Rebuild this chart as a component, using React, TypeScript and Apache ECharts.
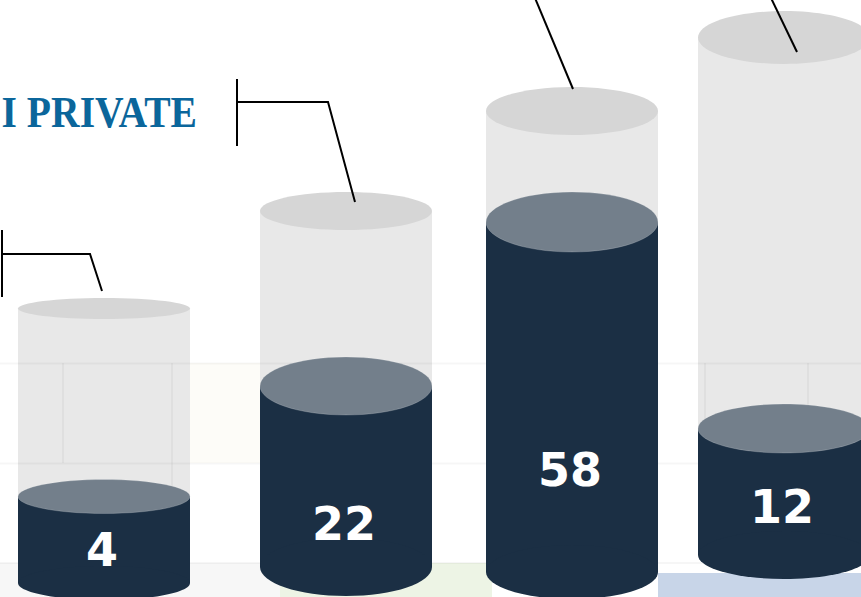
import React, { useEffect, useRef } from "react";
import * as echarts from "echarts";

// ---- data ----
const categories = ["Colonna 1", "Colonna 2", "Colonna 3", "Colonna 4"];
const values = [4, 22, 58, 12];
// x position of each column on the horizontal value axis
const columnCenters = [104, 346, 572, 784];
// levels on the vertical value axis (0 = bottom of the picture)
const baseLevels = [14, 30, 25, 42];
const fillLevels = [100.5, 211, 375, 168.5];
const capacityLevels = [288.5, 386, 486, 559.5];
const labelLevels = [47, 73, 127, 90];
const titleText = "I PRIVATE";

// ---- styling ----
const COLUMN_WIDTH = 172;
const ryCapacity = [10.5, 19, 24, 26.5];
const ryFill = [17, 29, 30, 24.5];
const ryBase = [17, 29, 27, 24];

const W = 861;
const H = 597;

export default function App() {
  const ref = useRef<HTMLDivElement>(null);

  useEffect(() => {
    if (!ref.current) return;
    const chart = echarts.init(ref.current, undefined, { renderer: "svg" });

    const data = categories.map((c, i) => ({
      name: c,
      value: [columnCenters[i], baseLevels[i], fillLevels[i], capacityLevels[i], labelLevels[i], values[i], i],
    }));

    const geom = (api: any) => {
      const x = api.value(0);
      const cx = api.coord([x, 0])[0];
      const baseY = api.coord([x, api.value(1)])[1];
      const fillY = api.coord([x, api.value(2)])[1];
      const capY = api.coord([x, api.value(3)])[1];
      const labelY = api.coord([x, api.value(4)])[1];
      const w = api.size([COLUMN_WIDTH, 0])[0];
      return { cx, baseY, fillY, capY, labelY, w, rx: w / 2, i: api.value(6), v: api.value(5) };
    };

    const bgRender = (_p: any, api: any) => {
      const g = geom(api);
      return {
        type: "group",
        children: [
          {
            type: "rect",
            shape: { x: g.cx - g.rx, y: g.capY, width: g.w, height: g.fillY - g.capY + 4 },
            style: { fill: "#e8e8e8" },
          },
          {
            type: "ellipse",
            shape: { cx: g.cx, cy: g.capY, rx: g.rx, ry: ryCapacity[g.i] },
            style: { fill: "#d6d6d6" },
          },
        ],
      };
    };

    const fgRender = (_p: any, api: any) => {
      const g = geom(api);
      return {
        type: "group",
        children: [
          {
            type: "rect",
            shape: { x: g.cx - g.rx, y: g.fillY, width: g.w, height: g.baseY - g.fillY },
            style: { fill: "#1b2f44" },
          },
          {
            type: "ellipse",
            shape: { cx: g.cx, cy: g.baseY, rx: g.rx, ry: ryBase[g.i] },
            style: { fill: "#1b2f44" },
          },
          {
            type: "ellipse",
            shape: { cx: g.cx, cy: g.fillY, rx: g.rx, ry: ryFill[g.i] },
            style: { fill: "#737f8b", stroke: "rgba(255,255,255,0.18)", lineWidth: 1 },
          },
          {
            type: "text",
            x: g.cx - 2,
            y: g.labelY,
            style: {
              text: String(g.v),
              fill: "#ffffff",
              font: 'bold 46px "DejaVu Sans", Verdana, sans-serif',
              align: "center",
              verticalAlign: "middle",
              textAlign: "center",
              textVerticalAlign: "middle",
            },
          },
        ],
      };
    };

    const faint = "rgba(0,0,0,0.035)";
    const decor: any[] = [
      { type: "rect", z: 0, shape: { x: 0, y: 563, width: 280, height: 40 }, style: { fill: "#f7f7f7" } },
      { type: "rect", z: 0, shape: { x: 280, y: 563, width: 212, height: 40 }, style: { fill: "#edf4e5" } },
      { type: "rect", z: 0, shape: { x: 658, y: 573, width: 210, height: 30 }, style: { fill: "#c8d5e8" } },
      { type: "rect", z: 0, shape: { x: 172, y: 363, width: 90, height: 100 }, style: { fill: "#fdfcf8" } },
      { type: "line", z: 2, shape: { x1: 0, y1: 363.5, x2: W, y2: 363.5 }, style: { stroke: faint, lineWidth: 2 } },
      { type: "line", z: 2, shape: { x1: 0, y1: 463.5, x2: W, y2: 463.5 }, style: { stroke: faint, lineWidth: 2 } },
      { type: "line", z: 2, shape: { x1: 0, y1: 563, x2: W, y2: 563 }, style: { stroke: faint, lineWidth: 2 } },
      { type: "line", z: 2, shape: { x1: 63, y1: 363, x2: 63, y2: 463 }, style: { stroke: faint, lineWidth: 2 } },
      { type: "line", z: 2, shape: { x1: 172, y1: 363, x2: 172, y2: 563 }, style: { stroke: faint, lineWidth: 2 } },
      { type: "line", z: 2, shape: { x1: 705, y1: 363, x2: 705, y2: 463 }, style: { stroke: faint, lineWidth: 2 } },
      { type: "line", z: 2, shape: { x1: 808, y1: 363, x2: 808, y2: 463 }, style: { stroke: faint, lineWidth: 2 } },
    ];

    const leaderStyle = { stroke: "#000000", lineWidth: 2, fill: null };
    const leaders: any[] = [
      { type: "line", z: 5, shape: { x1: 2, y1: 230, x2: 2, y2: 297 }, style: leaderStyle },
      { type: "polyline", z: 5, shape: { points: [[2, 254], [90, 254], [102, 291]] }, style: leaderStyle },
      { type: "line", z: 5, shape: { x1: 237, y1: 79, x2: 237, y2: 146 }, style: leaderStyle },
      { type: "polyline", z: 5, shape: { points: [[237, 102], [328, 102], [355, 202]] }, style: leaderStyle },
      { type: "line", z: 5, shape: { x1: 535, y1: -2, x2: 573, y2: 89 }, style: leaderStyle },
      { type: "line", z: 5, shape: { x1: 771, y1: -2, x2: 797, y2: 52 }, style: leaderStyle },
      {
        type: "text",
        z: 5,
        x: 197,
        y: 112,
        scaleX: 0.88,
        style: {
          text: titleText,
          fill: "#0b669b",
          font: 'bold 45px "Liberation Serif", "DejaVu Serif", serif',
          align: "right",
          verticalAlign: "middle",
          textAlign: "right",
          textVerticalAlign: "middle",
        },
      },
    ];

    chart.setOption({
      animation: false,
      backgroundColor: "#ffffff",
      grid: { left: 0, right: 0, top: 0, bottom: 0 },
      xAxis: { type: "value", min: 0, max: W, show: false },
      yAxis: { type: "value", min: 0, max: H, show: false },
      graphic: { elements: [...decor, ...leaders] },
      series: [
        { type: "custom", name: "capacity", z: 1, renderItem: bgRender, data, clip: false },
        { type: "custom", name: "filled", z: 3, renderItem: fgRender, data, clip: false },
      ],
    });

    return () => chart.dispose();
  }, []);

  return (
    <div
      ref={ref}
      style={{ position: "absolute", left: 0, top: 0, width: W, height: H, background: "#fff" }}
    />
  );
}
